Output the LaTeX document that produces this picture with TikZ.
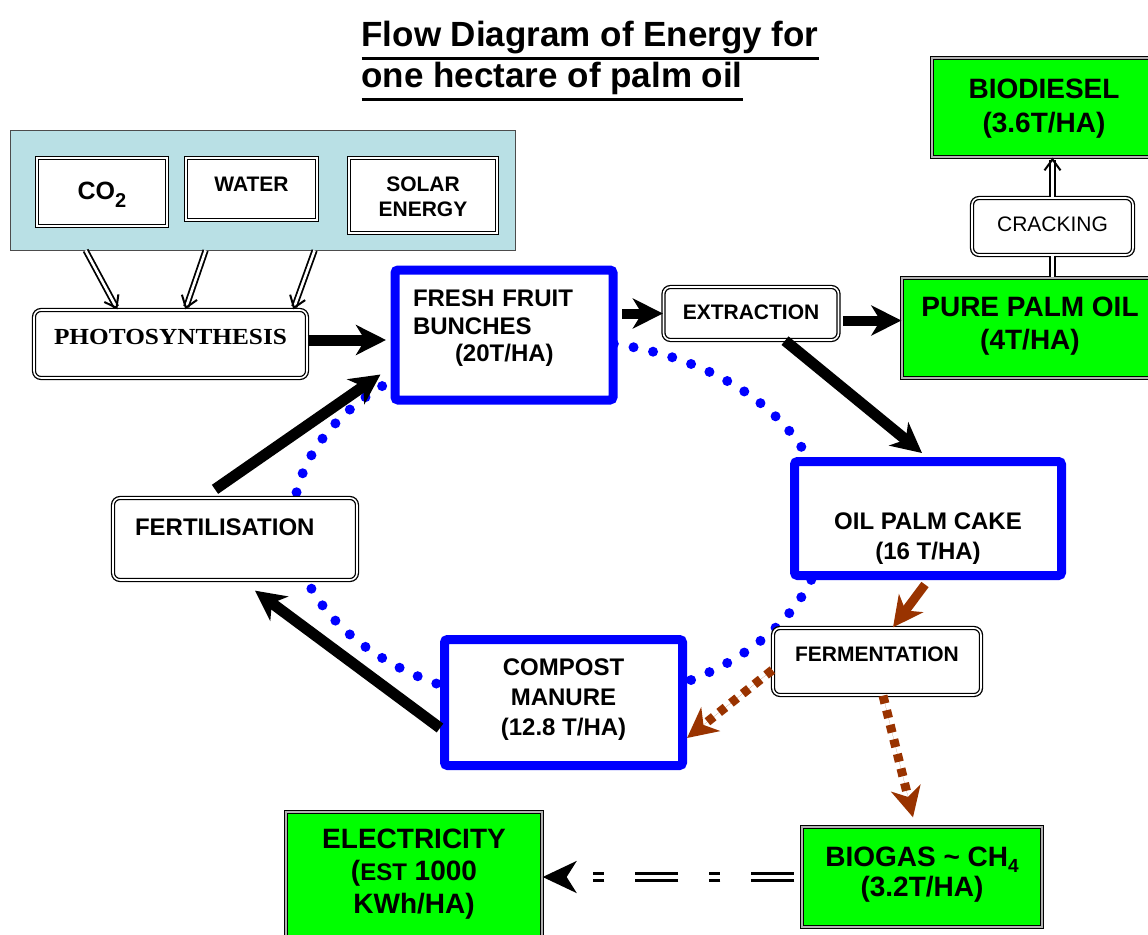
\documentclass[tikz,border=0pt]{standalone}
\usepackage{fontspec}
\usepackage{graphicx}
\setmainfont{Liberation Sans}
\newfontfamily\timesfont{Liberation Serif}
\usetikzlibrary{arrows.meta,positioning}
\definecolor{panelblue}{RGB}{185,224,229}
\definecolor{rust}{RGB}{153,51,0}
\newcommand{\fsize}[2]{\fontsize{#1pt}{#2pt}\selectfont}
\newcommand{\titleul}[1]{\setbox0=\hbox{#1}\rlap{\vrule width\wd0 height -10pt depth 13.5pt}\box0}
\tikzset{
    %Define standard arrow tip
    >={Stealth[length=30pt,width=30pt,inset=9pt]},
    %Define style for the double framed boxes
    framed/.style={
           rectangle,
           draw=black,
           line width=1.3pt,
           double=white,
           double distance=1.6pt,
           fill=white,
           inner sep=0pt},
    %Define style for the rounded process boxes
    procbox/.style={
           framed,
           rounded corners=7pt},
    %Define style for the blue mass boxes
    massbox/.style={
           rectangle,
           draw=blue,
           line width=9pt,
           rounded corners=3pt,
           fill=white,
           inner sep=0pt},
    %Define style for the green product boxes
    yieldbox/.style={
           framed,
           fill=green,
           double=gray!60},
    % Define arrow styles
    flow/.style={
           ->,
           line width=11pt},
    rustflow/.style={
           ->,
           draw=rust,
           fill=rust,
           line width=9pt},
    rustdash/.style={
           rustflow,
           dash pattern=on 8pt off 7pt},
    feed/.style={
           -{Straight Barb[length=11pt,width=16pt,line width=2pt]},
           line width=1.8pt,
           double=white,
           double distance=2.6pt},
    power/.style={
           -{Stealth[length=34pt,width=32pt,inset=10pt]},
           line width=3pt,
           double=white,
           double distance=3.5pt,
           dash pattern=on 43pt off 31pt on 11pt off 31pt,
           shorten <=7pt}
}
\begin{document}
\begin{tikzpicture}[x=1pt, y=-1pt, font=\bfseries]
  \useasboundingbox (0,0) rectangle (1148,934);
  \clip (0,0) rectangle (1148,934);
  % title
  \node[anchor=base west, font=\bfseries\fsize{35}{40}] (title1) at (358,47) {\titleul{Flow Diagram of Energy for}};
  \node[anchor=base west, font=\bfseries\fsize{35}{40}] (title2) at (358,88) {\titleul{one hectare of palm oil}};
  % inputs
  \node[draw=black!70, fill=panelblue, line width=0.8pt, minimum width=505pt, minimum height=120pt, inner sep=0pt] (inputs) at (262.5,190) {};
  \node[framed, minimum width=130pt, text height=41pt, text depth=27pt, font=\bfseries\fsize{25}{30}] (co2) at (102,192) {CO\raisebox{-8pt}{\fsize{20}{20}2}};
  \node[framed, minimum width=131pt, text height=33.6pt, text depth=28.4pt, font=\bfseries\fsize{21}{25}] (water) at (251.5,189) {WATER};
  \node[framed, minimum width=148pt, text height=58.6pt, text depth=16.4pt, align=center, font=\bfseries\fsize{21}{25}] (solar) at (423,195.5) {SOLAR\\ENERGY};
  % cycle
  \draw[blue, line width=10pt, line cap=round, dash pattern=on 0pt off 20pt] (559,522) ellipse [x radius=266pt, y radius=182pt];
  \node[procbox, minimum width=273pt, text height=34pt, text depth=34pt, font=\timesfont\bfseries\fsize{23}{28}] (photo) at (170.5,344) {\scalebox{1.1}[1]{PHOTOSYNTHESIS}};
  \node[massbox, text width=182pt, inner xsep=18pt, text height=36.7pt, text depth=93.3pt, align=left, font=\bfseries\fsize{24}{27.5}] (ffb) at (504,335) {FRESH FRUIT\\BUNCHES\\\hspace*{42pt}(20T/HA)};
  \node[procbox, minimum width=175pt, text height=32.3pt, text depth=20.7pt, font=\bfseries\fsize{21}{25}] (extraction) at (751,313.5) {EXTRACTION};
  \node[yieldbox, minimum width=256pt, text height=71.7pt, text depth=28.3pt, align=center, font=\bfseries\fsize{28}{33}] (ppo) at (1030,328) {PURE PALM OIL\\(4T/HA)};
  \node[procbox, minimum width=161pt, text height=33.7pt, text depth=23.3pt, font=\mdseries\fsize{21}{25}] (cracking) at (1052.5,226.5) {CRACKING};
  \node[yieldbox, minimum width=224pt, text height=74.3pt, text depth=24.7pt, align=center, font=\bfseries\fsize{28}{34}] (biodiesel) at (1044,107.5) {BIODIESEL\\(3.6T/HA)};
  \node[massbox, minimum width=267pt, text height=97.5pt, text depth=16.5pt, align=center, font=\bfseries\fsize{24}{30}] (opc) at (928,518.5) {OIL PALM CAKE\\(16 T/HA)};
  \node[procbox, minimum width=208pt, text height=33.7pt, text depth=33.3pt, font=\bfseries\fsize{21}{25}] (ferment) at (877,661.5) {FERMENTATION};
  \node[massbox, minimum width=238pt, text height=95.5pt, text depth=30.5pt, align=center, font=\bfseries\fsize{24}{30}] (compost) at (563.5,702.5) {COMPOST\\MANURE\\(12.8 T/HA)};
  \node[procbox, text width=200pt, inner xsep=22pt, text height=37pt, text depth=45pt, align=left, font=\bfseries\fsize{24}{29}] (fert) at (235,539) {FERTILISATION};
  % energy products
  \node[yieldbox, minimum width=256pt, text height=101.3pt, text depth=26.7pt, align=center, font=\bfseries\fsize{28}{32.5}] (elec) at (414,876) {ELECTRICITY\\({\fsize{24}{32.5}EST} 1000\\KWh/HA)};
  \node[yieldbox, minimum width=240pt, text height=69.7pt, text depth=30.3pt, align=center, font=\bfseries\fsize{28}{30}] (biogas) at (922,877) {BIOGAS \textasciitilde{} CH\raisebox{-6pt}{\fsize{19}{19}4}\\(3.2T/HA)};
  % connectors
  \foreach \a/\b in {76/84, 196/152, 305/260}
    \draw[feed] ([xshift=\a pt]inputs.south west) -- ([xshift=\b pt]photo.north west);
  \draw[flow, shorten >=4.5pt] ([yshift=4pt]photo.east) -- ([yshift=4pt]photo.east -| ffb.west);
  \draw[flow, line width=10pt, shorten <=4.5pt] (ffb.east |- extraction.west) -- (extraction.west);
  \draw[flow, line width=10pt, shorten <=4pt] ([yshift=-7pt]extraction.east) -- ([yshift=-7pt]extraction.east -| ppo.west);
  \draw[feed, -] (cracking.south) -- (cracking.south |- ppo.north);
  \draw[feed] (cracking.north) -- (cracking.north |- biodiesel.south);
  \draw[flow] ([xshift=34pt]extraction.south) -- ([xshift=-6pt,yshift=4pt]opc.north);
  \draw[rustflow] ([xshift=-3pt,yshift=-4.5pt]opc.south) -- ([xshift=16pt]ferment.north);
  \draw[rustdash] ([yshift=-8.5pt]ferment.west) -- ([yshift=-35.5pt]compost.east);
  \draw[rustdash] ([xshift=6pt]ferment.south) -- ([xshift=-9pt,yshift=9pt]biogas.north);
  \draw[flow] ([yshift=-25.5pt]compost.west) -- ([xshift=20pt,yshift=-10pt]fert.south);
  \draw[flow] ([xshift=-20pt,yshift=8pt]fert.north) -- ([xshift=-10pt,yshift=30pt]ffb.south west);
  \draw[power] (biogas.west) -- (biogas.west -| elec.east);
\end{tikzpicture}
\end{document}
